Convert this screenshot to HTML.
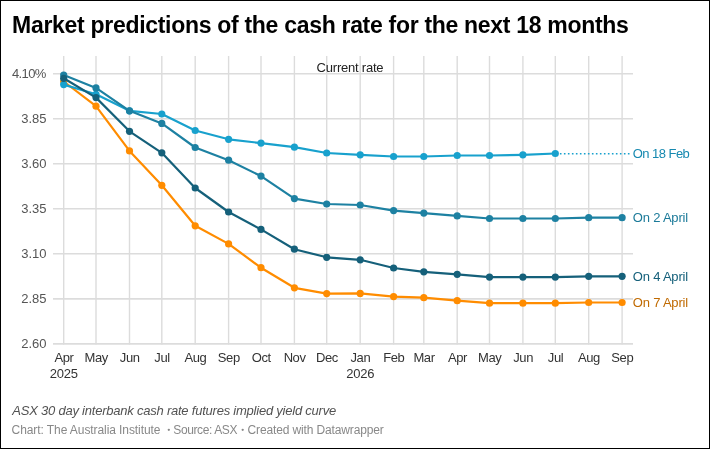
<!DOCTYPE html>
<html><head><meta charset="utf-8"><title>Market predictions of the cash rate</title>
<style>
html,body{margin:0;padding:0;background:#fff;}
body{width:710px;height:449px;position:relative;overflow:hidden;font-family:"Liberation Sans",sans-serif;}
.frame{position:absolute;left:0;top:0;width:708px;height:447px;border:1px solid #000;border-right-width:1px;z-index:5;pointer-events:none}
.t{position:absolute;white-space:nowrap;line-height:1;}
.title{font-size:23px;font-weight:bold;color:#000;}
.yl{font-size:13px;color:#555;text-align:right;width:46.5px;left:0}
.xl{font-size:13px;color:#333;text-align:center;width:40px;}
.ft{top:424.4px;font-size:12px;color:#888}
.sl{font-size:13px;left:632.8px}
</style></head><body>
<div id="wrap" style="position:absolute;left:0;top:0;width:710px;height:449px;will-change:transform">
<svg width="710" height="449" viewBox="0 0 710 449" style="position:absolute;left:0;top:0">
<line x1="63.7" y1="56" x2="63.7" y2="344.4" stroke="#dcdcdc" stroke-width="1.4"/>
<line x1="96.0" y1="56" x2="96.0" y2="344.4" stroke="#dcdcdc" stroke-width="1.4"/>
<line x1="129.5" y1="56" x2="129.5" y2="344.4" stroke="#dcdcdc" stroke-width="1.4"/>
<line x1="161.8" y1="56" x2="161.8" y2="344.4" stroke="#dcdcdc" stroke-width="1.4"/>
<line x1="195.2" y1="56" x2="195.2" y2="344.4" stroke="#dcdcdc" stroke-width="1.4"/>
<line x1="228.6" y1="56" x2="228.6" y2="344.4" stroke="#dcdcdc" stroke-width="1.4"/>
<line x1="261.0" y1="56" x2="261.0" y2="344.4" stroke="#dcdcdc" stroke-width="1.4"/>
<line x1="294.4" y1="56" x2="294.4" y2="344.4" stroke="#dcdcdc" stroke-width="1.4"/>
<line x1="326.7" y1="56" x2="326.7" y2="344.4" stroke="#dcdcdc" stroke-width="1.4"/>
<line x1="360.2" y1="56" x2="360.2" y2="344.4" stroke="#dcdcdc" stroke-width="1.4"/>
<line x1="393.6" y1="56" x2="393.6" y2="344.4" stroke="#dcdcdc" stroke-width="1.4"/>
<line x1="423.8" y1="56" x2="423.8" y2="344.4" stroke="#dcdcdc" stroke-width="1.4"/>
<line x1="457.2" y1="56" x2="457.2" y2="344.4" stroke="#dcdcdc" stroke-width="1.4"/>
<line x1="489.5" y1="56" x2="489.5" y2="344.4" stroke="#dcdcdc" stroke-width="1.4"/>
<line x1="522.9" y1="56" x2="522.9" y2="344.4" stroke="#dcdcdc" stroke-width="1.4"/>
<line x1="555.3" y1="56" x2="555.3" y2="344.4" stroke="#dcdcdc" stroke-width="1.4"/>
<line x1="588.7" y1="56" x2="588.7" y2="344.4" stroke="#dcdcdc" stroke-width="1.4"/>
<line x1="622.1" y1="56" x2="622.1" y2="344.4" stroke="#dcdcdc" stroke-width="1.4"/>
<line x1="53" y1="73.7" x2="633" y2="73.7" stroke="#dcdcdc" stroke-width="1.6"/>
<line x1="53" y1="118.7" x2="633" y2="118.7" stroke="#dcdcdc" stroke-width="1.6"/>
<line x1="53" y1="163.8" x2="633" y2="163.8" stroke="#dcdcdc" stroke-width="1.6"/>
<line x1="53" y1="208.8" x2="633" y2="208.8" stroke="#dcdcdc" stroke-width="1.6"/>
<line x1="53" y1="253.8" x2="633" y2="253.8" stroke="#dcdcdc" stroke-width="1.6"/>
<line x1="53" y1="298.9" x2="633" y2="298.9" stroke="#dcdcdc" stroke-width="1.6"/>
<line x1="53" y1="343.9" x2="633" y2="343.9" stroke="#dcdcdc" stroke-width="1.6"/>
<line x1="555.3" y1="153.7" x2="630.4" y2="153.7" stroke="#18a1cd" stroke-width="1.6" stroke-dasharray="1.6,2.4" stroke-dashoffset="-0.6"/>
<polyline points="63.7,81.5 96.0,106.2 129.5,150.9 161.8,185.3 195.2,225.8 228.6,243.9 261.0,267.7 294.4,287.8 326.7,293.6 360.2,293.4 393.6,296.6 423.8,297.7 457.2,300.7 489.5,303.2 522.9,303.2 555.3,303.2 588.7,302.5 622.1,302.5" fill="none" stroke="#ff8c00" stroke-width="2.2" stroke-linejoin="round" stroke-linecap="round"/>
<circle cx="63.7" cy="81.5" r="3.6" fill="#ff8c00"/>
<circle cx="96.0" cy="106.2" r="3.6" fill="#ff8c00"/>
<circle cx="129.5" cy="150.9" r="3.6" fill="#ff8c00"/>
<circle cx="161.8" cy="185.3" r="3.6" fill="#ff8c00"/>
<circle cx="195.2" cy="225.8" r="3.6" fill="#ff8c00"/>
<circle cx="228.6" cy="243.9" r="3.6" fill="#ff8c00"/>
<circle cx="261.0" cy="267.7" r="3.6" fill="#ff8c00"/>
<circle cx="294.4" cy="287.8" r="3.6" fill="#ff8c00"/>
<circle cx="326.7" cy="293.6" r="3.6" fill="#ff8c00"/>
<circle cx="360.2" cy="293.4" r="3.6" fill="#ff8c00"/>
<circle cx="393.6" cy="296.6" r="3.6" fill="#ff8c00"/>
<circle cx="423.8" cy="297.7" r="3.6" fill="#ff8c00"/>
<circle cx="457.2" cy="300.7" r="3.6" fill="#ff8c00"/>
<circle cx="489.5" cy="303.2" r="3.6" fill="#ff8c00"/>
<circle cx="522.9" cy="303.2" r="3.6" fill="#ff8c00"/>
<circle cx="555.3" cy="303.2" r="3.6" fill="#ff8c00"/>
<circle cx="588.7" cy="302.5" r="3.6" fill="#ff8c00"/>
<circle cx="622.1" cy="302.5" r="3.6" fill="#ff8c00"/>
<polyline points="63.7,84.6 96.0,94.3 129.5,110.8 161.8,114.0 195.2,130.5 228.6,139.3 261.0,143.1 294.4,147.2 326.7,153.0 360.2,154.8 393.6,156.5 423.8,156.5 457.2,155.5 489.5,155.5 522.9,154.8 555.3,153.5" fill="none" stroke="#18a1cd" stroke-width="2.2" stroke-linejoin="round" stroke-linecap="round"/>
<circle cx="63.7" cy="84.6" r="3.6" fill="#18a1cd"/>
<circle cx="96.0" cy="94.3" r="3.6" fill="#18a1cd"/>
<circle cx="129.5" cy="110.8" r="3.6" fill="#18a1cd"/>
<circle cx="161.8" cy="114.0" r="3.6" fill="#18a1cd"/>
<circle cx="195.2" cy="130.5" r="3.6" fill="#18a1cd"/>
<circle cx="228.6" cy="139.3" r="3.6" fill="#18a1cd"/>
<circle cx="261.0" cy="143.1" r="3.6" fill="#18a1cd"/>
<circle cx="294.4" cy="147.2" r="3.6" fill="#18a1cd"/>
<circle cx="326.7" cy="153.0" r="3.6" fill="#18a1cd"/>
<circle cx="360.2" cy="154.8" r="3.6" fill="#18a1cd"/>
<circle cx="393.6" cy="156.5" r="3.6" fill="#18a1cd"/>
<circle cx="423.8" cy="156.5" r="3.6" fill="#18a1cd"/>
<circle cx="457.2" cy="155.5" r="3.6" fill="#18a1cd"/>
<circle cx="489.5" cy="155.5" r="3.6" fill="#18a1cd"/>
<circle cx="522.9" cy="154.8" r="3.6" fill="#18a1cd"/>
<circle cx="555.3" cy="153.5" r="3.6" fill="#18a1cd"/>
<polyline points="63.7,75.0 96.0,87.9 129.5,110.8 161.8,123.4 195.2,147.5 228.6,160.2 261.0,176.1 294.4,198.6 326.7,204.0 360.2,205.0 393.6,210.6 423.8,213.1 457.2,215.9 489.5,218.5 522.9,218.5 555.3,218.5 588.7,217.7 622.1,217.7" fill="none" stroke="#1d81a2" stroke-width="2.2" stroke-linejoin="round" stroke-linecap="round"/>
<circle cx="63.7" cy="75.0" r="3.6" fill="#1d81a2"/>
<circle cx="96.0" cy="87.9" r="3.6" fill="#1d81a2"/>
<circle cx="129.5" cy="110.8" r="3.6" fill="#1d81a2"/>
<circle cx="161.8" cy="123.4" r="3.6" fill="#1d81a2"/>
<circle cx="195.2" cy="147.5" r="3.6" fill="#1d81a2"/>
<circle cx="228.6" cy="160.2" r="3.6" fill="#1d81a2"/>
<circle cx="261.0" cy="176.1" r="3.6" fill="#1d81a2"/>
<circle cx="294.4" cy="198.6" r="3.6" fill="#1d81a2"/>
<circle cx="326.7" cy="204.0" r="3.6" fill="#1d81a2"/>
<circle cx="360.2" cy="205.0" r="3.6" fill="#1d81a2"/>
<circle cx="393.6" cy="210.6" r="3.6" fill="#1d81a2"/>
<circle cx="423.8" cy="213.1" r="3.6" fill="#1d81a2"/>
<circle cx="457.2" cy="215.9" r="3.6" fill="#1d81a2"/>
<circle cx="489.5" cy="218.5" r="3.6" fill="#1d81a2"/>
<circle cx="522.9" cy="218.5" r="3.6" fill="#1d81a2"/>
<circle cx="555.3" cy="218.5" r="3.6" fill="#1d81a2"/>
<circle cx="588.7" cy="217.7" r="3.6" fill="#1d81a2"/>
<circle cx="622.1" cy="217.7" r="3.6" fill="#1d81a2"/>
<polyline points="63.7,78.3 96.0,97.6 129.5,131.3 161.8,152.8 195.2,188.0 228.6,212.0 261.0,229.4 294.4,249.2 326.7,257.3 360.2,259.8 393.6,268.0 423.8,271.8 457.2,274.3 489.5,277.1 522.9,277.1 555.3,277.1 588.7,276.3 622.1,276.3" fill="none" stroke="#15607a" stroke-width="2.2" stroke-linejoin="round" stroke-linecap="round"/>
<circle cx="63.7" cy="78.3" r="3.6" fill="#15607a"/>
<circle cx="96.0" cy="97.6" r="3.6" fill="#15607a"/>
<circle cx="129.5" cy="131.3" r="3.6" fill="#15607a"/>
<circle cx="161.8" cy="152.8" r="3.6" fill="#15607a"/>
<circle cx="195.2" cy="188.0" r="3.6" fill="#15607a"/>
<circle cx="228.6" cy="212.0" r="3.6" fill="#15607a"/>
<circle cx="261.0" cy="229.4" r="3.6" fill="#15607a"/>
<circle cx="294.4" cy="249.2" r="3.6" fill="#15607a"/>
<circle cx="326.7" cy="257.3" r="3.6" fill="#15607a"/>
<circle cx="360.2" cy="259.8" r="3.6" fill="#15607a"/>
<circle cx="393.6" cy="268.0" r="3.6" fill="#15607a"/>
<circle cx="423.8" cy="271.8" r="3.6" fill="#15607a"/>
<circle cx="457.2" cy="274.3" r="3.6" fill="#15607a"/>
<circle cx="489.5" cy="277.1" r="3.6" fill="#15607a"/>
<circle cx="522.9" cy="277.1" r="3.6" fill="#15607a"/>
<circle cx="555.3" cy="277.1" r="3.6" fill="#15607a"/>
<circle cx="588.7" cy="276.3" r="3.6" fill="#15607a"/>
<circle cx="622.1" cy="276.3" r="3.6" fill="#15607a"/>
<circle cx="168.8" cy="429.8" r="1.15" fill="#888"/><circle cx="242.7" cy="429.8" r="1.15" fill="#888"/>
</svg>
<div class="t title" id="title" style="left:12.1px;top:13.5px;letter-spacing:-0.3px">Market predictions of the cash rate for the next 18 months</div>
<div class="t yl" style="top:66.7px;letter-spacing:-0.6px;width:45.8px;">4.10%</div>
<div class="t yl" style="top:111.7px;">3.85</div>
<div class="t yl" style="top:156.8px;">3.60</div>
<div class="t yl" style="top:201.8px;">3.35</div>
<div class="t yl" style="top:246.8px;">3.10</div>
<div class="t yl" style="top:291.9px;">2.85</div>
<div class="t yl" style="top:336.9px;">2.60</div>
<div class="t xl" style="left:43.9px;top:351px;letter-spacing:-0.4px">Apr</div>
<div class="t xl" style="left:76.2px;top:351px;letter-spacing:-0.4px">May</div>
<div class="t xl" style="left:109.7px;top:351px;letter-spacing:-0.4px">Jun</div>
<div class="t xl" style="left:142.0px;top:351px;letter-spacing:-0.4px">Jul</div>
<div class="t xl" style="left:175.4px;top:351px;letter-spacing:-0.4px">Aug</div>
<div class="t xl" style="left:208.8px;top:351px;letter-spacing:-0.4px">Sep</div>
<div class="t xl" style="left:241.2px;top:351px;letter-spacing:-0.4px">Oct</div>
<div class="t xl" style="left:274.6px;top:351px;letter-spacing:-0.4px">Nov</div>
<div class="t xl" style="left:306.9px;top:351px;letter-spacing:-0.4px">Dec</div>
<div class="t xl" style="left:340.4px;top:351px;letter-spacing:-0.4px">Jan</div>
<div class="t xl" style="left:373.8px;top:351px;letter-spacing:-0.4px">Feb</div>
<div class="t xl" style="left:404.0px;top:351px;letter-spacing:-0.4px">Mar</div>
<div class="t xl" style="left:437.4px;top:351px;letter-spacing:-0.4px">Apr</div>
<div class="t xl" style="left:469.7px;top:351px;letter-spacing:-0.4px">May</div>
<div class="t xl" style="left:503.1px;top:351px;letter-spacing:-0.4px">Jun</div>
<div class="t xl" style="left:535.5px;top:351px;letter-spacing:-0.4px">Jul</div>
<div class="t xl" style="left:568.9px;top:351px;letter-spacing:-0.4px">Aug</div>
<div class="t xl" style="left:602.3px;top:351px;letter-spacing:-0.4px">Sep</div>
<div class="t xl" style="left:43.7px;top:367px;letter-spacing:-0.2px">2025</div>
<div class="t xl" style="left:340.2px;top:367px;letter-spacing:-0.2px">2026</div>
<div class="t" id="cur" style="left:316.6px;top:60.8px;font-size:13px;color:#222;letter-spacing:-0.22px">Current rate</div>
<div class="t sl" style="top:147.4px;color:#1689b0;letter-spacing:-0.55px">On 18 Feb</div>
<div class="t sl" style="top:211.0px;color:#1b7a99;letter-spacing:-0.2px">On 2 April</div>
<div class="t sl" style="top:269.9px;color:#15607a;letter-spacing:-0.2px">On 4 April</div>
<div class="t sl" style="top:295.8px;color:#c06a00;letter-spacing:-0.2px">On 7 April</div>
<div class="t" id="note" style="left:12.3px;top:403.6px;font-size:13px;font-style:italic;color:#525252;letter-spacing:-0.225px">ASX 30 day interbank cash rate futures implied yield curve</div>
<div class="t ft" style="left:11.6px;letter-spacing:-0.08px">Chart: The Australia Institute</div>
<div class="t ft" style="left:173.3px;letter-spacing:-0.39px">Source: ASX</div>
<div class="t ft" style="left:247.6px;letter-spacing:-0.14px">Created with Datawrapper</div>
</div>
<div class="frame"></div>
</body></html>
